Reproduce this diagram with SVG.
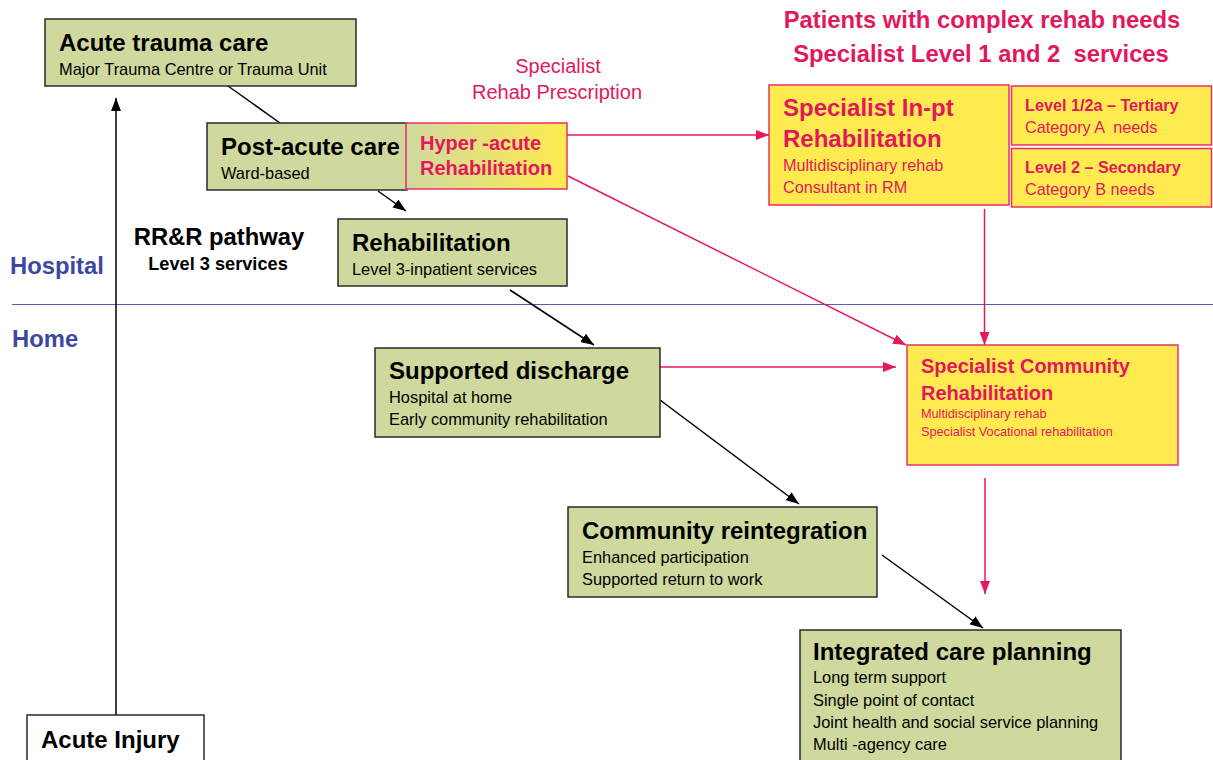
<svg xmlns="http://www.w3.org/2000/svg" width="1213" height="760" viewBox="0 0 1213 760">
  <style>
    text { font-family: "Liberation Sans", Arial, sans-serif; }
    .box { fill: #CFD99E; stroke: #2a2a2a; stroke-width: 1.5; }
    .sbox { fill: #FFEB4F; stroke: #E8306A; stroke-width: 1.5; }
    .title { font-size: 24px; font-weight: bold; fill: #000; }
    .sub { font-size: 16.4px; fill: #000; }
    .ptitle { font-weight: bold; fill: #E3175E; }
    .psub { fill: #E3175E; }
    .side { font-size: 23.8px; font-weight: bold; fill: #3D48A0; }
    .blk { stroke: #000; stroke-width: 1.5; fill: none; }
    .pnk { stroke: #E8185E; stroke-width: 1.5; fill: none; }
  </style>
  <defs>
    <marker id="ahB" viewBox="0 0 13 10" refX="13" refY="5" markerWidth="13" markerHeight="10" markerUnits="userSpaceOnUse" orient="auto">
      <path d="M0,0 L13,5 L0,10 z" fill="#000"/>
    </marker>
    <marker id="ahP" viewBox="0 0 13 10" refX="13" refY="5" markerWidth="13" markerHeight="10" markerUnits="userSpaceOnUse" orient="auto">
      <path d="M0,0 L13,5 L0,10 z" fill="#E8185E"/>
    </marker>
    <linearGradient id="hyperFill" x1="0" y1="0" x2="1" y2="0">
      <stop offset="0" stop-color="#CFD99E"/>
      <stop offset="1" stop-color="#FFEB4F"/>
    </linearGradient>
  </defs>

  <rect width="1213" height="760" fill="#fff"/>

  <!-- Hospital / Home divider -->
  <g id="zones">
    <line x1="12" y1="304.5" x2="1213" y2="304.5" stroke="#5B5BB5" stroke-width="1"/>
    <text class="side" x="10" y="274">Hospital</text>
    <text class="side" x="12" y="347">Home</text>
  </g>

  <!-- Headings -->
  <g id="headings">
    <text x="982" y="28" text-anchor="middle" class="ptitle" font-size="23.8">Patients with complex rehab needs</text>
    <text x="981" y="62" text-anchor="middle" class="ptitle" font-size="23.8" xml:space="preserve">Specialist Level 1 and 2  services</text>
    <text x="558" y="73" text-anchor="middle" class="psub" font-size="20">Specialist</text>
    <text x="557" y="99" text-anchor="middle" class="psub" font-size="20">Rehab Prescription</text>
    <text x="219" y="245" text-anchor="middle" font-size="23.8" font-weight="bold" fill="#000">RR&amp;R pathway</text>
    <text x="218" y="270" text-anchor="middle" font-size="18.2" font-weight="bold" fill="#000">Level 3 services</text>
  </g>

  <!-- Connectors -->
  <g id="connectors">
    <line class="blk" x1="116" y1="715" x2="116" y2="98" marker-end="url(#ahB)"/>
    <line class="blk" x1="228" y1="86" x2="280" y2="123"/>
    <line class="blk" x1="378" y1="191" x2="406" y2="211" marker-end="url(#ahB)"/>
    <line class="blk" x1="510" y1="290" x2="594" y2="345" marker-end="url(#ahB)"/>
    <line class="blk" x1="660" y1="400" x2="799" y2="504" marker-end="url(#ahB)"/>
    <line class="blk" x1="882" y1="555" x2="983" y2="628" marker-end="url(#ahB)"/>
    <line class="pnk" x1="567" y1="135" x2="769" y2="135" marker-end="url(#ahP)"/>
    <line class="pnk" x1="568" y1="176" x2="906" y2="345" marker-end="url(#ahP)"/>
    <line class="pnk" x1="984.5" y1="209" x2="984.5" y2="345" marker-end="url(#ahP)"/>
    <line class="pnk" x1="660" y1="367" x2="896" y2="367" marker-end="url(#ahP)"/>
    <line class="pnk" x1="985" y1="478" x2="985" y2="594" marker-end="url(#ahP)"/>
  </g>

  <g id="acute-trauma">
    <rect class="box" x="45" y="19" width="311" height="67"/>
    <text class="title" x="59" y="51">Acute trauma care</text>
    <text class="sub" x="59" y="75">Major Trauma Centre or Trauma Unit</text>
  </g>

  <g id="post-acute">
    <rect class="box" x="207" y="123" width="200" height="67"/>
    <text class="title" x="221" y="155">Post-acute care</text>
    <text class="sub" x="221" y="179">Ward-based</text>
  </g>

  <g id="hyper-acute">
    <rect x="406" y="123" width="161" height="66" fill="url(#hyperFill)" stroke="#E8306A" stroke-width="1.5"/>
    <text class="ptitle" font-size="20" x="420" y="150">Hyper -acute</text>
    <text class="ptitle" font-size="20" x="420" y="175">Rehabilitation</text>
  </g>

  <g id="rehabilitation">
    <rect class="box" x="338" y="219" width="229" height="67"/>
    <text class="title" x="352" y="251">Rehabilitation</text>
    <text class="sub" x="352" y="275">Level 3-inpatient services</text>
  </g>

  <g id="specialist-inpt">
    <rect class="sbox" x="769" y="85" width="240" height="120"/>
    <text class="ptitle" font-size="24" x="783" y="116">Specialist In-pt</text>
    <text class="ptitle" font-size="24" x="783" y="147">Rehabilitation</text>
    <text class="psub" font-size="16.2" x="783" y="171">Multidisciplinary rehab</text>
    <text class="psub" font-size="16.2" x="783" y="193">Consultant in RM</text>
  </g>

  <g id="level-1-2a">
    <rect class="sbox" x="1011.5" y="86" width="200" height="59"/>
    <text class="ptitle" font-size="16.2" x="1025" y="111">Level 1/2a – Tertiary</text>
    <text class="psub" font-size="16.2" x="1025" y="133" xml:space="preserve">Category A  needs</text>
  </g>

  <g id="level-2">
    <rect class="sbox" x="1011.5" y="148.5" width="200" height="58.5"/>
    <text class="ptitle" font-size="16.2" x="1025" y="173">Level 2 – Secondary</text>
    <text class="psub" font-size="16.2" x="1025" y="195">Category B needs</text>
  </g>

  <g id="supported-discharge">
    <rect class="box" x="375" y="348" width="285" height="89"/>
    <text class="title" x="389" y="379">Supported discharge</text>
    <text class="sub" x="389" y="403">Hospital at home</text>
    <text class="sub" x="389" y="425">Early community rehabilitation</text>
  </g>

  <g id="specialist-community">
    <rect class="sbox" x="907" y="345" width="271" height="120"/>
    <text class="ptitle" font-size="20" x="921" y="373">Specialist Community</text>
    <text class="ptitle" font-size="20" x="921" y="400">Rehabilitation</text>
    <text class="psub" font-size="12.7" x="921" y="418">Multidisciplinary rehab</text>
    <text class="psub" font-size="12.7" x="921" y="436">Specialist Vocational rehabilitation</text>
  </g>

  <g id="community-reintegration">
    <rect class="box" x="568" y="507" width="309" height="90"/>
    <text class="title" x="582" y="539">Community reintegration</text>
    <text class="sub" x="582" y="563">Enhanced participation</text>
    <text class="sub" x="582" y="585">Supported return to work</text>
  </g>

  <g id="integrated-care">
    <rect class="box" x="800" y="630" width="321" height="140"/>
    <text class="title" x="813" y="660">Integrated care planning</text>
    <text class="sub" x="813" y="683">Long term support</text>
    <text class="sub" x="813" y="706">Single point of contact</text>
    <text class="sub" x="813" y="728">Joint health and social service planning</text>
    <text class="sub" x="813" y="750">Multi -agency care</text>
  </g>

  <g id="acute-injury">
    <rect x="27" y="715" width="177" height="60" fill="#fff" stroke="#2a2a2a" stroke-width="1.5"/>
    <text class="title" x="41" y="748">Acute Injury</text>
  </g>
</svg>
